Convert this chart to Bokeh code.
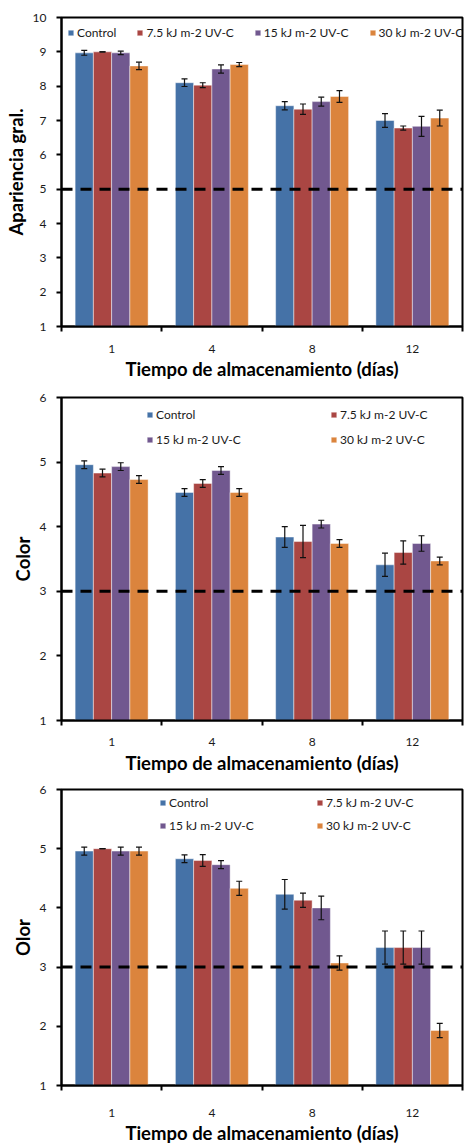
from bokeh.plotting import figure
from bokeh.models import (ColumnDataSource, Whisker, Span, Legend, LegendItem,
                          FixedTicker, Range1d, TeeHead)
from bokeh.layouts import column
from bokeh.embed import file_html
from bokeh.resources import INLINE

# ---------------- data ----------------
days = ["1", "4", "8", "12"]
series_names = ["Control", "7.5 kJ m-2 UV-C", "15 kJ m-2 UV-C", "30 kJ m-2 UV-C"]
colors = ["#4572A7", "#AA4643", "#71588F", "#DB843D"]

# Apariencia general
apariencia_control = [8.97, 8.10, 7.43, 7.00]
apariencia_75 = [9.00, 8.03, 7.33, 6.78]
apariencia_15 = [8.97, 8.50, 7.55, 6.83]
apariencia_30 = [8.59, 8.63, 7.70, 7.07]
apariencia_err_control = [0.07, 0.11, 0.12, 0.20]
apariencia_err_75 = [0.00, 0.07, 0.15, 0.06]
apariencia_err_15 = [0.05, 0.12, 0.13, 0.29]
apariencia_err_30 = [0.11, 0.06, 0.17, 0.23]

# Color
color_control = [4.96, 4.53, 3.84, 3.41]
color_75 = [4.83, 4.67, 3.77, 3.60]
color_15 = [4.93, 4.87, 4.04, 3.74]
color_30 = [4.73, 4.53, 3.74, 3.47]
color_err_control = [0.06, 0.06, 0.16, 0.18]
color_err_75 = [0.06, 0.06, 0.25, 0.18]
color_err_15 = [0.06, 0.06, 0.06, 0.12]
color_err_30 = [0.06, 0.06, 0.06, 0.06]

# Olor
olor_control = [4.96, 4.83, 4.23, 3.33]
olor_75 = [5.00, 4.80, 4.13, 3.33]
olor_15 = [4.96, 4.73, 4.00, 3.33]
olor_30 = [4.96, 4.33, 3.07, 1.93]
olor_err_control = [0.067, 0.065, 0.25, 0.28]
olor_err_75 = [0.00, 0.10, 0.12, 0.28]
olor_err_15 = [0.067, 0.067, 0.20, 0.28]
olor_err_30 = [0.067, 0.12, 0.12, 0.12]

x_title = "Tiempo de almacenamiento (días)"

FONT = "Lato"
BAR_W = 0.182
FIG_W = 466


def make_chart(y_title, y_min, y_max, values, errors, threshold,
               b_top, frame_h, b_bottom, b_left, tick_standoff, title_standoff,
               legend_loc, legend_ncols, legend_spacing, legend_label_w):
    p = figure(width=FIG_W, height=b_top + frame_h + b_bottom,
               x_range=Range1d(0, 4),
               y_range=Range1d(y_min, y_max), output_backend="svg",
               toolbar_location=None, min_border_left=b_left,
               min_border_right=4, min_border_top=b_top,
               min_border_bottom=b_bottom)
    p.xgrid.visible = False
    p.ygrid.visible = False
    p.outline_line_color = "black"
    p.outline_line_width = 2
    p.outline_line_alpha = 1

    items = []
    for j, (vals, errs) in enumerate(zip(values, errors)):
        xs = [i + 0.5 + (j - 1.5) * BAR_W for i in range(len(days))]
        src = ColumnDataSource(dict(
            x=xs, top=vals,
            upper=[v + e for v, e in zip(vals, errs)],
            lower=[v - e for v, e in zip(vals, errs)]))
        r = p.vbar(x="x", top="top", bottom=y_min, width=BAR_W, source=src,
                   fill_color=colors[j], line_color="white", line_alpha=0.45,
                   line_width=1)
        items.append(LegendItem(label=series_names[j], renderers=[r]))
        w = Whisker(source=src, base="x", upper="upper", lower="lower",
                    line_color="#111111", line_width=1.2, level="annotation",
                    upper_head=TeeHead(size=6, line_color="#111111", line_width=1.2),
                    lower_head=TeeHead(size=6, line_color="#111111", line_width=1.2))
        p.add_layout(w)

    p.add_layout(Span(location=threshold, dimension="width", line_color="black",
                      line_width=3, line_dash="11 8"))

    # x axis: labels at group centres, ticks at group boundaries
    p.xaxis.ticker = FixedTicker(ticks=[i + 0.5 for i in range(len(days))],
                                 minor_ticks=list(range(len(days) + 1)))
    p.xaxis.major_label_overrides = {i + 0.5: d for i, d in enumerate(days)}
    p.xaxis.major_tick_line_color = None
    p.xaxis.major_tick_out = 0
    p.xaxis.major_tick_in = 0
    p.xaxis.minor_tick_line_color = "black"
    p.xaxis.minor_tick_line_width = 2
    p.xaxis.minor_tick_out = 5
    p.xaxis.minor_tick_in = 0
    p.xaxis.major_label_standoff = tick_standoff
    p.xaxis.axis_label = x_title
    p.xaxis.axis_label_standoff = title_standoff

    p.yaxis.ticker = FixedTicker(ticks=list(range(y_min, y_max + 1)), minor_ticks=[])
    p.yaxis.major_tick_line_color = "black"
    p.yaxis.major_tick_line_width = 2
    p.yaxis.major_tick_out = 5
    p.yaxis.major_tick_in = 0
    p.yaxis.major_label_standoff = 10
    p.yaxis.axis_label = y_title
    p.yaxis.axis_label_standoff = 3

    for ax in (p.xaxis[0], p.yaxis[0]):
        ax.axis_line_color = "black"
        ax.axis_line_width = 2
        ax.major_label_text_font = FONT
        ax.major_label_text_font_size = "12px"
        ax.major_label_text_color = "#1a1a1a"
        ax.axis_label_text_font = FONT
        ax.axis_label_text_font_size = "18.5px"
        ax.axis_label_text_font_style = "bold"
        ax.axis_label_text_color = "black"

    legend = Legend(items=items, location=legend_loc, orientation="horizontal",
                    ncols=legend_ncols, spacing=legend_spacing,
                    label_width=legend_label_w, label_height=16,
                    glyph_width=7, glyph_height=7, label_standoff=3,
                    padding=2, margin=0, border_line_color=None,
                    background_fill_alpha=0,
                    label_text_font=FONT, label_text_font_size="12px",
                    label_text_color="#1a1a1a")
    p.add_layout(legend)
    return p


f1_frame_h = 309
f1 = make_chart("Apariencia gral.", 1, 10,
                [apariencia_control, apariencia_75, apariencia_15, apariencia_30],
                [apariencia_err_control, apariencia_err_75, apariencia_err_15, apariencia_err_30],
                5, 17, f1_frame_h, 61, 60, 13, 2,
                (6, f1_frame_h - 23), 4, 20, 20)

f2_frame_h = 323
f2 = make_chart("Color", 1, 6,
                [color_control, color_75, color_15, color_30],
                [color_err_control, color_err_75, color_err_15, color_err_30],
                3, 10, f2_frame_h, 59, 61, 12, 3,
                (85, f2_frame_h - 50), 2, 9, 165)

f3_frame_h = 300
f3 = make_chart("Olor", 1, 6,
                [olor_control, olor_75, olor_15, olor_30],
                [olor_err_control, olor_err_75, olor_err_15, olor_err_30],
                3, 10, f3_frame_h, 57, 58, 18, 2,
                (98, f3_frame_h - 48), 2, 7, 140)

layout = column(f1, f2, f3, spacing=0)
open("out.html", "w").write(file_html(layout, INLINE))
